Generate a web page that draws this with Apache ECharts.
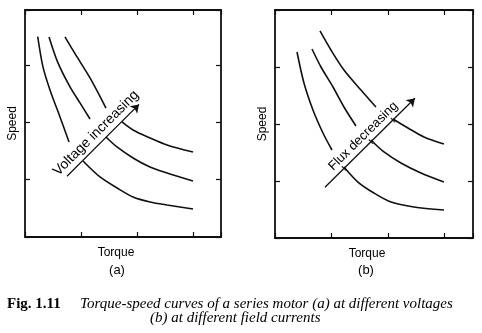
<!DOCTYPE html>
<html>
<head>
<meta charset="utf-8">
<script src="https://cdn.jsdelivr.net/npm/echarts@6/dist/echarts.min.js"></script>
<style>
html,body{margin:0;padding:0;background:#fff;}
#chart{width:482px;height:333px;}
</style>
</head>
<body>
<div id="chart"></div>
<script>
// ---- Data (torque, speed) in relative units ----
// Panel (a): different voltages (curves broken where the label crosses)
const aCurve1Upper = [[0.227,3.496],[0.321,2.967],[0.446,2.565],[0.625,2.094],[0.786,1.658]];
const aCurve1Lower = [[1.036,1.326],[1.339,1.047],[1.643,0.855],[1.929,0.698],[2.232,0.611],[2.536,0.558],[3.0,0.489]];
const aCurve2Upper = [[0.429,3.49],[0.589,3.037],[0.804,2.618],[0.982,2.339],[1.161,2.059]];
const aCurve2Lower = [[1.446,1.745],[1.643,1.571],[1.929,1.379],[2.232,1.222],[2.536,1.117],[3.0,0.977]];
const aCurve3Upper = [[0.714,3.49],[0.929,3.141],[1.161,2.775],[1.446,2.25]];
const aCurve3Lower = [[1.732,2.007],[1.929,1.867],[2.232,1.728],[2.536,1.606],[3.0,1.483]];
const aArrow = [[0.75,1.061],[2.036,2.313]];

// Panel (b): different field currents
const bCurve1Upper = [[0.389,3.263],[0.512,2.719],[0.671,2.246],[0.848,1.842],[1.007,1.544]];
const bCurve1Lower = [[1.219,1.246],[1.466,0.982],[1.749,0.789],[2.049,0.632],[2.456,0.544],[2.986,0.491]];
const bCurve2Upper = [[0.654,3.316],[0.813,3.0],[1.025,2.649],[1.219,2.298],[1.431,1.965]];
const bCurve2Lower = [[1.696,1.719],[1.926,1.509],[2.226,1.316],[2.58,1.14],[2.986,0.982]];
const bCurve3Upper = [[0.795,3.632],[0.989,3.298],[1.219,2.947],[1.519,2.596],[1.784,2.298]];
const bCurve3Lower = [[2.085,2.088],[2.35,1.93],[2.633,1.772],[2.986,1.649]];
const bArrow = [[0.883,0.889],[2.473,2.451]];
const bMarks = [[1.219,1.22],[1.696,1.69],[2.085,2.07]];

// Text
const xName = 'Torque';
const yName = 'Speed';
const arrowTexts = ['Voltage increasing', 'Flux decreasing'];
const panelLabels = ['(a)', '(b)'];
const figNumber = 'Fig. 1.11';
const captionLines = ['Torque-speed curves of a series motor (a) at different voltages',
                      '(b) at different field currents'];

const axisMax = [{x:3.5, y:3.96}, {x:3.5, y:4.0}];

const black = '#111';
const nameStyle = {color:'#000', fontFamily:'Liberation Sans', fontSize:12};

function xAx(g, pos, named) {
  return {
    gridIndex:g, type:'value', position:pos, min:0, max:axisMax[g].x, interval:1,
    axisLine:{show:true, onZero:false, lineStyle:{color:black, width:1.8}},
    axisTick:{show:true, inside:true, length:5, lineStyle:{color:black, width:1.2}},
    axisLabel:{show:false}, splitLine:{show:false},
    name: named ? xName : '', nameLocation:'middle', nameGap:10,
    nameTextStyle: Object.assign({padding:[0,14,0,0]}, nameStyle)
  };
}
function yAx(g, pos, named) {
  return {
    gridIndex:g, type:'value', position:pos, min:0, max:axisMax[g].y, interval:1,
    axisLine:{show:true, onZero:false, lineStyle:{color:black, width:1.8}},
    axisTick:{show:true, inside:true, length:5, lineStyle:{color:black, width:1.2}},
    axisLabel:{show:false}, splitLine:{show:false},
    name: named ? yName : '', nameLocation:'middle', nameGap:6, nameRotate:90,
    nameTextStyle: nameStyle
  };
}

function curve(data, xi, yi) {
  return {type:'line', xAxisIndex:xi, yAxisIndex:yi, data:data, smooth:0.3,
          symbol:'none', silent:true, lineStyle:{color:black, width:1.6}};
}
function arrow(data, xi, yi, text, fs) {
  return {
    type:'line', xAxisIndex:xi, yAxisIndex:yi, data:data, symbol:'none', silent:true,
    lineStyle:{opacity:0},
    markLine:{
      silent:true, symbol:['none','arrow'], symbolSize:8, animation:false,
      lineStyle:{color:black, width:1.3, type:'solid'},
      itemStyle:{color:black},
      label:{show:true, position:'insideMiddleTop', formatter:text, distance:3,
             color:'#000', fontFamily:'Liberation Sans', fontSize:fs},
      emphasis:{disabled:true},
      data:[[{coord:data[0]},{coord:data[1]}]]
    }
  };
}

const option = {
  backgroundColor:'#fff',
  animation:false,
  grid:[
    {left:25, top:10, width:196, height:227},
    {left:275, top:10, width:198, height:228}
  ],
  xAxis:[xAx(0,'bottom',true), xAx(0,'top',false), xAx(1,'bottom',true), xAx(1,'top',false)],
  yAxis:[yAx(0,'left',true), yAx(0,'right',false), yAx(1,'left',true), yAx(1,'right',false)],
  series:[
    curve(aCurve1Upper,0,0), curve(aCurve1Lower,0,0),
    curve(aCurve2Upper,0,0), curve(aCurve2Lower,0,0),
    curve(aCurve3Upper,0,0), curve(aCurve3Lower,0,0),
    arrow(aArrow,0,0,arrowTexts[0],14),
    curve(bCurve1Upper,2,2), curve(bCurve1Lower,2,2),
    curve(bCurve2Upper,2,2), curve(bCurve2Lower,2,2),
    curve(bCurve3Upper,2,2), curve(bCurve3Lower,2,2),
    arrow(bArrow,2,2,arrowTexts[1],13),
    {type:'scatter', xAxisIndex:2, yAxisIndex:2, data:bMarks, symbol:'rect',
     symbolSize:[1.4,6], symbolRotate:45, silent:true, itemStyle:{color:black}}
  ],
  graphic:[
    {type:'text', x:117, y:270, style:{text:panelLabels[0], textAlign:'center', textVerticalAlign:'middle', font:'13px "Liberation Sans"', fill:'#000'}},
    {type:'text', x:366, y:270, style:{text:panelLabels[1], textAlign:'center', textVerticalAlign:'middle', font:'13px "Liberation Sans"', fill:'#000'}},
    {type:'text', x:7, y:304, style:{text:figNumber, textAlign:'left', textVerticalAlign:'middle', font:'bold 15px "Liberation Serif"', fill:'#000'}},
    {type:'text', x:80, y:304, style:{text:captionLines[0], textAlign:'left', textVerticalAlign:'middle', font:'italic 15px "Liberation Serif"', fill:'#000'}},
    {type:'text', x:150, y:318, style:{text:captionLines[1], textAlign:'left', textVerticalAlign:'middle', font:'italic 15px "Liberation Serif"', fill:'#000'}}
  ]
};

const chart = echarts.init(document.getElementById('chart'), null, {renderer:'canvas'});
chart.setOption(option);
</script>
</body>
</html>
